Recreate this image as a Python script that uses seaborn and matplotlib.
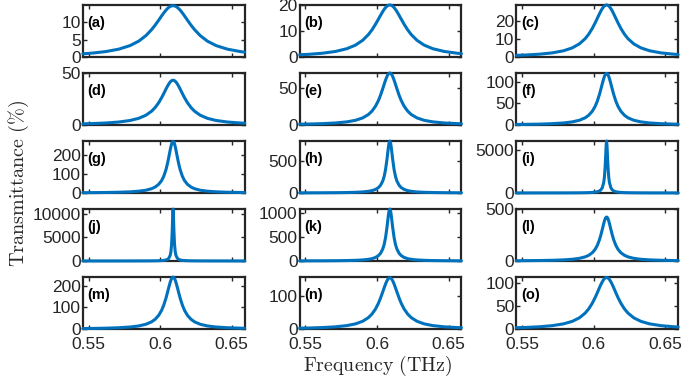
import numpy as np
import pandas as pd
import seaborn as sns
import matplotlib
matplotlib.use("Agg")
import matplotlib.pyplot as plt

### frequency grid (THz), denser around the resonance at ~0.609
freq = [0.546, 0.553, 0.562, 0.571, 0.579, 0.585, 0.590, 0.594, 0.5965, 0.599,
        0.601, 0.6025, 0.604, 0.605, 0.606, 0.607, 0.6075, 0.608, 0.6084, 0.6087,
        0.609,
        0.6093, 0.6096, 0.610, 0.6105, 0.611, 0.612, 0.613, 0.614, 0.6155, 0.617,
        0.619, 0.6215, 0.624, 0.628, 0.633, 0.639, 0.647, 0.656, 0.659]

### transmittance (%)
t_a = [0.90, 1.12, 1.54, 2.23, 3.28, 4.55, 6.14, 7.88, 9.19, 10.64,
       11.84, 12.70, 13.48, 13.93, 14.30, 14.57, 14.67, 14.74, 14.78, 14.80,
       14.80,
       14.80, 14.78, 14.74, 14.67, 14.57, 14.30, 13.93, 13.48, 12.70, 11.84,
       10.64, 9.19, 7.88, 6.14, 4.55, 3.28, 2.23, 1.54, 1.37]
t_b = [0.82, 1.02, 1.42, 2.10, 3.16, 4.54, 6.38, 8.58, 10.39, 12.57,
       14.51, 16.0, 17.42, 18.27, 18.99, 19.54, 19.74, 19.88, 19.96, 19.99,
       20.0,
       19.99, 19.96, 19.88, 19.74, 19.54, 18.99, 18.27, 17.42, 16.0, 14.51,
       12.57, 10.39, 8.58, 6.38, 4.54, 3.16, 2.10, 1.42, 1.27]
t_c = [0.86, 1.08, 1.51, 2.24, 3.44, 5.03, 7.28, 10.14, 12.66, 15.88,
       18.97, 21.49, 24.03, 25.61, 26.99, 28.07, 28.47, 28.76, 28.91, 28.98,
       29.0,
       28.98, 28.91, 28.76, 28.47, 28.07, 26.99, 25.61, 24.03, 21.49, 18.97,
       15.88, 12.66, 10.14, 7.28, 5.03, 3.44, 2.24, 1.51, 1.34]
t_d = [1.06, 1.33, 1.86, 2.79, 4.3, 6.36, 9.33, 13.23, 16.78, 21.5,
       26.22, 30.23, 34.4, 37.07, 39.45, 41.35, 42.05, 42.57, 42.85, 42.96,
       43.0,
       42.96, 42.85, 42.57, 42.05, 41.35, 39.45, 37.07, 34.4, 30.23, 26.22,
       21.5, 16.78, 13.23, 9.33, 6.36, 4.3, 2.79, 1.86, 1.66]
t_e = [0.99, 1.25, 1.76, 2.66, 4.18, 6.32, 9.57, 14.2, 18.8, 25.6,
       33.2, 40.5, 49.2, 55.3, 61.2, 66.3, 68.3, 69.8, 70.5, 70.9,
       71.0,
       70.9, 70.5, 69.8, 68.3, 66.3, 61.2, 55.3, 49.2, 40.5, 33.2,
       25.6, 18.8, 14.2, 9.57, 6.32, 4.18, 2.66, 1.76, 1.56]
t_f = [1.07, 1.35, 1.9, 2.89, 4.58, 7.0, 10.8, 16.4, 22.3, 31.5,
       42.8, 54.7, 70.2, 82.4, 95.2, 107.1, 112.0, 115.8, 117.8, 118.7,
       119.0,
       118.7, 117.8, 115.8, 112.0, 107.1, 95.2, 82.4, 70.2, 54.7, 42.8,
       31.5, 22.3, 16.4, 10.8, 7.0, 4.58, 2.89, 1.9, 1.69]
t_g = [1.38, 1.73, 2.46, 3.73, 5.94, 9.18, 14.3, 22.3, 31.0, 45.5,
       64.9, 87.5, 120.8, 150.8, 186.9, 225.5, 243.0, 257.3, 265.3, 268.8,
       270.0,
       268.8, 265.3, 257.3, 243.0, 225.5, 186.9, 150.8, 120.8, 87.5, 64.9,
       45.5, 31.0, 22.3, 14.3, 9.18, 5.94, 3.73, 2.46, 2.16]
t_h = [1.46, 1.86, 2.67, 4.05, 6.48, 10.1, 16.0, 25.4, 36.1, 55.1,
       82.9, 119.2, 182.9, 253.5, 362.5, 523.0, 619.0, 712.3, 771.8, 800.1,
       810.0,
       800.1, 771.8, 712.3, 619.0, 523.0, 362.5, 253.5, 182.9, 119.2, 82.9,
       55.1, 36.1, 25.4, 16.0, 10.1, 6.48, 4.05, 2.67, 2.35]
t_i = [1.51, 1.91, 2.72, 4.15, 6.66, 10.4, 16.6, 26.5, 38.2, 59.4,
       92.3, 139, 231, 353, 600, 1200, 1846, 3000, 4412, 5504,
       6000,
       5504, 4412, 3000, 1846, 1200, 600, 353, 231, 139, 92.3,
       59.4, 38.2, 26.5, 16.6, 10.4, 6.66, 4.15, 2.72, 2.4]
t_j = [1.32, 1.76, 2.42, 3.74, 5.94, 9.35, 15.0, 23.9, 34.1, 53.9,
       83.6, 126, 211, 327, 568, 1200, 1967, 3618, 6342, 9293,
       11000,
       9293, 6342, 3618, 1967, 1200, 568, 327, 211, 126, 83.6,
       53.9, 34.1, 23.9, 15.0, 9.35, 5.94, 3.74, 2.42, 2.2]
t_k = [1.94, 2.48, 3.56, 5.4, 8.64, 13.5, 21.4, 33.9, 48.2, 73.4,
       110.5, 159.0, 243.9, 338.0, 483.3, 697.4, 825.3, 949.8, 1029.1, 1066.8,
       1080.0,
       1066.8, 1029.1, 949.8, 825.3, 697.4, 483.3, 338.0, 243.9, 159.0, 110.5,
       73.4, 48.2, 33.9, 21.4, 13.5, 8.64, 5.4, 3.56, 3.13]
t_l = [2.45, 3.09, 4.36, 6.64, 10.6, 16.3, 25.4, 39.3, 54.4, 79.2,
       112.0, 149.3, 202.9, 249.7, 304.1, 360.4, 385.4, 405.4, 416.5, 421.4,
       423.0,
       421.4, 416.5, 405.4, 385.4, 360.4, 304.1, 249.7, 202.9, 149.3, 112.0,
       79.2, 54.4, 39.3, 25.4, 16.3, 10.6, 6.64, 4.36, 3.85]
t_m = [2.16, 2.71, 3.84, 5.83, 9.24, 14.1, 21.8, 33.1, 45.0, 63.5,
       86.4, 110.4, 141.6, 166.2, 192.0, 216.0, 225.9, 233.5, 237.6, 239.4,
       240.0,
       239.4, 237.6, 233.5, 225.9, 216.0, 192.0, 166.2, 141.6, 110.4, 86.4,
       63.5, 45.0, 33.1, 21.8, 14.1, 9.24, 5.83, 3.84, 3.41]
t_n = [2.46, 3.1, 4.37, 6.59, 10.3, 15.5, 23.3, 34.3, 45.0, 60.5,
       77.5, 93.4, 111.5, 124.0, 135.9, 145.9, 149.7, 152.6, 154.1, 154.8,
       155.0,
       154.8, 154.1, 152.6, 149.7, 145.9, 135.9, 124.0, 111.5, 93.4, 77.5,
       60.5, 45.0, 34.3, 23.3, 15.5, 10.3, 6.59, 4.37, 3.88]
t_o = [2.76, 3.46, 4.85, 7.26, 11.2, 16.6, 24.3, 34.5, 43.7, 56.0,
       68.3, 78.7, 89.6, 96.6, 102.7, 107.7, 109.5, 110.9, 111.6, 111.9,
       112.0,
       111.9, 111.6, 110.9, 109.5, 107.7, 102.7, 96.6, 89.6, 78.7, 68.3,
       56.0, 43.7, 34.5, 24.3, 16.6, 11.2, 7.26, 4.85, 4.31]

labels = ["(a)", "(b)", "(c)", "(d)", "(e)", "(f)", "(g)", "(h)", "(i)",
          "(j)", "(k)", "(l)", "(m)", "(n)", "(o)"]
series = [t_a, t_b, t_c, t_d, t_e, t_f, t_g, t_h, t_i, t_j, t_k, t_l, t_m, t_n, t_o]
y_top = [15, 20, 29, 50, 71, 120, 272, 810, 6000, 11000, 1080, 500, 240, 157, 113]
y_ticks = [[0, 5, 10], [0, 10, 20], [0, 10, 20], [0, 50], [0, 50], [0, 50, 100],
           [0, 100, 200], [0, 500], [0, 5000], [0, 5000, 10000], [0, 500, 1000],
           [0, 500], [0, 100, 200], [0, 100], [0, 50, 100]]
x_ticks = [0.55, 0.6, 0.65]
x_ticklabels = ["0.55", "0.6", "0.65"]

sns.set_style("white")
plt.rcParams["font.family"] = ["Liberation Sans", "DejaVu Sans"]
plt.rcParams["mathtext.fontset"] = "cm"

fig, axes = plt.subplots(5, 3, figsize=(6.85, 3.83), dpi=100)
fig.subplots_adjust(left=0.121, right=0.990, top=0.987, bottom=0.141,
                    wspace=0.34, hspace=0.31)

for i, ax in enumerate(axes.flat):
    df = pd.DataFrame({"f": freq, "T": series[i]})
    sns.lineplot(data=df, x="f", y="T", ax=ax, color="#0072BD", linewidth=2.2,
                 clip_on=False, zorder=3, sort=False)
    ax.set_xlim(0.546, 0.659)
    ax.set_ylim(0, y_top[i])
    ax.set_yticks(y_ticks[i])
    ax.set_yticklabels([str(v) for v in y_ticks[i]])
    ax.set_xticks(x_ticks)
    if i >= 12:
        ax.set_xticklabels(x_ticklabels)
    else:
        ax.set_xticklabels([])
    ax.set_xlabel("")
    ax.set_ylabel("")
    for sp in ax.spines.values():
        sp.set_visible(True)
        sp.set_color("#262626")
        sp.set_linewidth(1.6)
    ax.tick_params(axis="both", direction="in", length=3, width=1.0,
                   color="#262626", labelsize=12.5,
                   top=True, right=True, bottom=True, left=True)
    ax.tick_params(axis="y", pad=1.5)
    ax.tick_params(axis="x", pad=5.5)
    ax.text(0.03, 0.66, labels[i], transform=ax.transAxes, fontsize=10.5,
            fontweight="bold", va="center", ha="left", color="black")

fig.text(0.027, 0.52, r"$\mathrm{Transmittance\ (\%)}$", rotation=90,
         ha="center", va="center", fontsize=14.5)
fig.text(0.552, 0.045, r"$\mathrm{Frequency\ (THz)}$", ha="center",
         va="center", fontsize=14.3)

fig.savefig("out.png", dpi=100)
